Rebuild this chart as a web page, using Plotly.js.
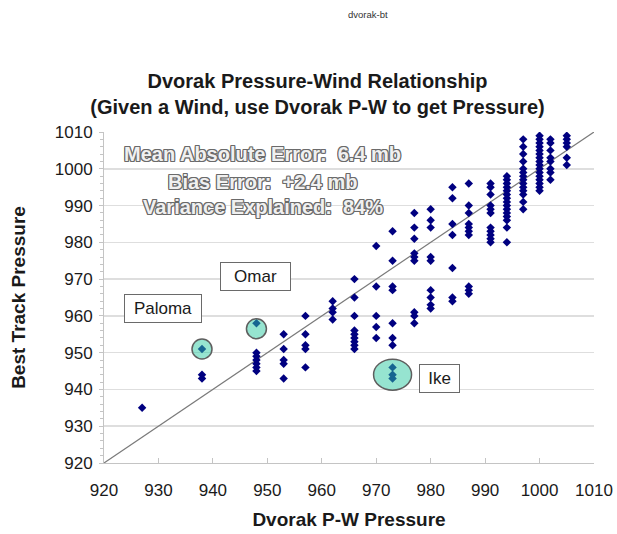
<!DOCTYPE html>
<html>
<head>
<meta charset="utf-8">
<script src="https://cdn.plot.ly/plotly-3.0.1.min.js"></script>
<style>
  html, body { margin: 0; padding: 0; background: #ffffff; }
  #chart { width: 617px; height: 534px; }
</style>
</head>
<body>
<div id="chart"></div>
<script>
// Dvorak P-W pressure levels (mb) and the best-track pressures found at each level
const pwLevels = [927, 938, 948, 953, 957, 962, 966, 970, 973, 977, 980, 984, 987, 991, 994, 997, 1000, 1002, 1005];
const bestTrackByLevel = [
  [935],
  [951, 944, 943],
  [958, 950, 949, 948, 947, 946, 945],
  [955, 951, 948, 947, 943],
  [960, 955, 952, 951, 946],
  [964, 962, 961, 959],
  [970, 965, 960, 956, 955, 954, 953, 952, 951],
  [979, 968, 960, 957, 954],
  [983, 975, 968, 967, 958, 954, 952, 946, 944, 943],
  [988, 984, 981, 977, 976, 975, 961, 960, 958],
  [989, 986, 984, 976, 975, 967, 965, 963, 962],
  [995, 992, 985, 982, 973, 965, 964],
  [996, 990, 988, 985, 984, 983, 982, 968, 967, 966],
  [996, 995, 993, 990, 989, 988, 984, 983, 982, 981, 980],
  [998, 997, 996, 995, 994, 993, 992, 991, 990, 989, 988, 987, 986, 984, 980],
  [1008, 1006, 1004, 1002, 1000, 999, 998, 997, 996, 995, 994, 993, 991, 989],
  [1009, 1008, 1007, 1006, 1005, 1004, 1003, 1002, 1001, 1000, 999, 998, 997, 996, 995, 994],
  [1008, 1007, 1005, 1003, 1002, 1000, 999, 997],
  [1009, 1008, 1007, 1006, 1003, 1001]
];

// Storms singled out on the chart
const stormNames = ['Paloma', 'Omar', 'Ike'];
const stormPW = [938, 948, 973];
const stormBT = [951, 958, 944];

// Verification statistics
const statLines = ['Mean Absolute Error:  6.4 mb', 'Bias Error:  +2.4 mb', 'Variance Explained:  84%'];

// Axis extent, also used for the 1:1 reference line
const axisRange = [920, 1010];
const tickValues = [920, 930, 940, 950, 960, 970, 980, 990, 1000, 1010];

// Flatten the columns into x/y pairs
const pwX = [];
const btY = [];
pwLevels.forEach((lv, i) => {
  bestTrackByLevel[i].forEach(bt => { pwX.push(lv); btY.push(bt); });
});

const FONT = 'Liberation Sans, Arial, Helvetica, sans-serif';

const traces = [
  {
    type: 'scatter', mode: 'lines',
    x: axisRange, y: axisRange,
    line: { color: '#7a7a7a', width: 1.2 },
    hoverinfo: 'skip', showlegend: false
  },
  {
    type: 'scatter', mode: 'markers',
    x: pwX, y: btY,
    marker: { symbol: 'diamond', size: 6.5, color: '#000080' },
    showlegend: false
  }
];

// Highlight rings around each named storm (pixel-sized, anchored on the storm's point)
const ringSpec = [
  { x0: -10, x1: 10, y0: -10, y1: 10 },
  { x0: -10, x1: 10, y0: -15.5, y1: 4.5 },
  { x0: -19, x1: 19, y0: -15.5, y1: 15.5 }
];
const shapes = stormNames.map((name, i) => ({
  type: 'circle', xref: 'x', yref: 'y',
  xsizemode: 'pixel', ysizemode: 'pixel',
  xanchor: stormPW[i], yanchor: stormBT[i],
  x0: ringSpec[i].x0, x1: ringSpec[i].x1, y0: ringSpec[i].y0, y1: ringSpec[i].y1,
  fillcolor: 'rgba(45,201,161,0.5)',
  line: { color: '#5e5e5e', width: 1.5 },
  layer: 'above'
}));

// Name boxes placed beside each ring
const labelSpec = [
  { x: 930.8, y: 962.1, w: 76 },
  { x: 947.9, y: 970.8, w: 69 },
  { x: 981.6, y: 943.0, w: 39 }
];
const annotations = stormNames.map((name, i) => ({
  text: name, xref: 'x', yref: 'y',
  x: labelSpec[i].x, y: labelSpec[i].y,
  xanchor: 'center', yanchor: 'middle',
  showarrow: false,
  width: labelSpec[i].w, height: 27,
  bgcolor: '#ffffff', bordercolor: '#6a6a6a', borderwidth: 1, borderpad: 0,
  font: { family: FONT, size: 17, color: '#1a1a1a' }
}));

// Outlined statistics block
const outline = '-1px -1px 0 #6a6a6a, 1px -1px 0 #6a6a6a, -1px 1px 0 #6a6a6a, 1px 1px 0 #6a6a6a, 0 1px 0 #6a6a6a, 0 -1px 0 #6a6a6a, 1px 0 0 #6a6a6a, -1px 0 0 #6a6a6a';
const statY = [0.9335, 0.8498, 0.7743];
statLines.forEach((line, i) => {
  annotations.push({
    text: line, xref: 'paper', yref: 'paper',
    x: 0.3235, y: statY[i], xanchor: 'center', yanchor: 'middle',
    showarrow: false,
    font: { family: FONT, size: 20, weight: 'bold', color: '#f0f0f0', shadow: outline }
  });
});

// Small file tag at the top of the page
annotations.push({
  text: 'dvorak-bt', xref: 'paper', yref: 'paper',
  x: 0.5378, y: 1.3535, xanchor: 'center', yanchor: 'middle',
  showarrow: false,
  font: { family: FONT, size: 9.5, color: '#333333' }
});

const layout = {
  width: 617, height: 534,
  margin: { l: 104, r: 23, t: 132, b: 71 },
  paper_bgcolor: '#ffffff', plot_bgcolor: '#ffffff',
  font: { family: FONT, color: '#1a1a1a' },
  title: {
    text: 'Dvorak Pressure-Wind Relationship<br>(Given a Wind, use Dvorak P-W to get Pressure)',
    font: { family: FONT, size: 20, weight: 'bold', color: '#1a1a1a' },
    xref: 'container', yref: 'container',
    x: 0.5146, xanchor: 'center',
    y: 0.836, yanchor: 'middle'
  },
  xaxis: {
    range: axisRange, tickvals: tickValues,
    showgrid: false, zeroline: false,
    showline: true, linecolor: '#c4c4c4', linewidth: 1,
    ticks: 'inside', ticklen: 5, tickcolor: '#c4c4c4',
    ticklabelstandoff: 12,
    tickfont: { family: FONT, size: 17, color: '#1a1a1a' },
    title: { text: 'Dvorak P-W Pressure', standoff: 13,
             font: { family: FONT, size: 19, weight: 'bold', color: '#1a1a1a' } }
  },
  yaxis: {
    range: axisRange, tickvals: tickValues,
    showgrid: true, gridcolor: '#dedede', gridwidth: 1.5,
    zeroline: false,
    showline: true, linecolor: '#c4c4c4', linewidth: 1,
    ticks: 'outside', ticklen: 4, tickcolor: '#c4c4c4',
    minor: { dtick: 2, ticks: 'outside', ticklen: 3, tickcolor: '#c4c4c4', showgrid: false },
    ticklabelstandoff: 3,
    tickfont: { family: FONT, size: 17, color: '#1a1a1a' },
    title: { text: 'Best Track Pressure', standoff: 24,
             font: { family: FONT, size: 19, weight: 'bold', color: '#1a1a1a' } }
  },
  shapes: shapes,
  annotations: annotations,
  showlegend: false
};

Plotly.newPlot('chart', traces, layout, { displayModeBar: false, staticPlot: true });
</script>
</body>
</html>
